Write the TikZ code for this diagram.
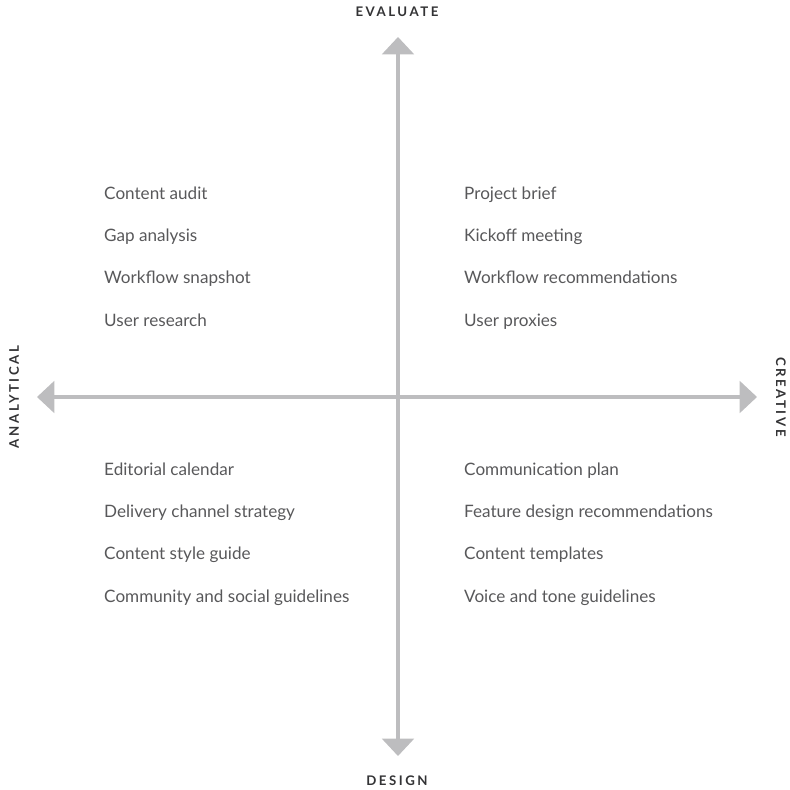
\documentclass[tikz,border=0pt]{standalone}
\usepackage{fontspec}
\setmainfont{Lato}
\usepackage{xcolor}
\usetikzlibrary{arrows.meta, positioning}
\definecolor{axisgray}{HTML}{BDBDBF}
\definecolor{textgray}{HTML}{58585A}
\definecolor{labelgray}{HTML}{333335}

\begin{document}
\begin{tikzpicture}[
    x=0.03cm, y=-0.03cm,
    axis/.style={draw=axisgray, line width=2.7pt, {Triangle[width=0.95cm, length=0.52cm]}-{Triangle[width=0.95cm, length=0.52cm]}},
    item/.style={anchor=base west, inner sep=0pt, text=textgray, font=\fontsize{14.6}{16}\selectfont},
    pole/.style={inner sep=0pt, text=labelgray, font=\fontsize{11.3}{13}\selectfont\bfseries\addfontfeature{LetterSpace=19}}
]
\useasboundingbox (0,0) rectangle (790,790);

% Axes
\coordinate (top) at (398,37);
\coordinate (bottom) at (398,756);
\coordinate (left) at (37,397);
\coordinate (right) at (757,397);
\draw[axis] (bottom) -- (top);
\draw[axis] (left) -- (right);

% Poles
\node[pole] (evaluate) at (397,12) {EVALUATE};
\node[pole] (design) at (397,781) {DESIGN};
\node[pole, rotate=90] (analytical) at (14,397) {ANALYTICAL};
\node[pole, rotate=-90] (creative) at (781,397) {CREATIVE};

% Analytical / evaluate
\node[item] (audit) at (104,199) {Content audit};
\node[item] (gap) at (104,241) {Gap analysis};
\node[item] (snapshot) at (104,283) {Workflow snapshot};
\node[item] (research) at (104,326) {User research};

% Creative / evaluate
\node[item] (brief) at (464,199) {Project brief};
\node[item] (kickoff) at (464,241) {Kickoff meeting};
\node[item] (recs) at (464,283) {Workflow recommendations};
\node[item] (proxies) at (464,326) {User proxies};

% Analytical / design
\node[item] (calendar) at (104,475) {Editorial calendar};
\node[item] (channel) at (104,517) {Delivery channel strategy};
\node[item] (style) at (104,559) {Content style guide};
\node[item] (community) at (104,602) {Community and social guidelines};

% Creative / design
\node[item] (comms) at (464,475) {Communication plan};
\node[item] (feature) at (464,517) {Feature design recommendations};
\node[item] (templates) at (464,559) {Content templates};
\node[item] (voice) at (464,602) {Voice and tone guidelines};
\end{tikzpicture}
\end{document}
